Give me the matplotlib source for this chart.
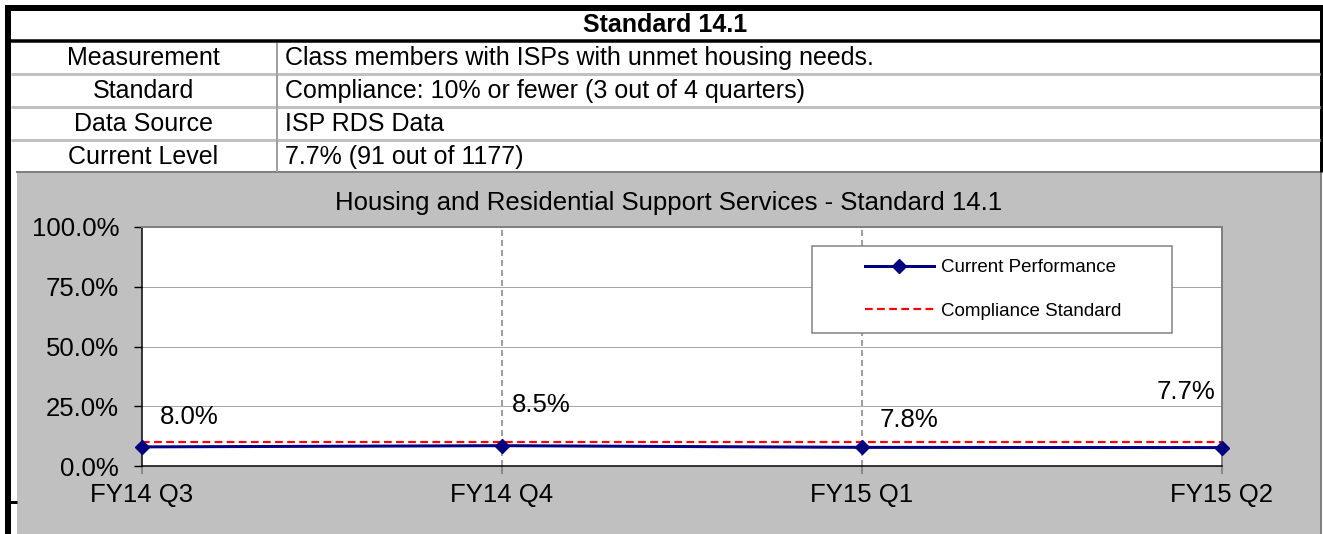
import matplotlib
matplotlib.use("Agg")
import matplotlib.pyplot as plt
from matplotlib.patches import Rectangle
from matplotlib.ticker import FuncFormatter

plt.rcParams['font.family'] = ['Liberation Sans', 'DejaVu Sans']

# ---- data ----
header = "Standard 14.1"
table_labels = ["Measurement", "Standard", "Data Source", "Current Level"]
table_values = ["Class members with ISPs with unmet housing needs.",
                "Compliance: 10% or fewer (3 out of 4 quarters)",
                "ISP RDS Data",
                "7.7% (91 out of 1177)"]
chart_title = "Housing and Residential Support Services - Standard 14.1"
quarters = ["FY14 Q3", "FY14 Q4", "FY15 Q1", "FY15 Q2"]
performance = [0.080, 0.085, 0.078, 0.077]
standard = [0.10, 0.10, 0.10, 0.10]
y_ticks = [0.0, 0.25, 0.50, 0.75, 1.0]
series_names = ["Current Performance", "Compliance Standard"]

W, H = 1323, 534
fig = plt.figure(figsize=(W / 100, H / 100), dpi=100)
fig.patch.set_facecolor("white")

# background / table axes in pixel coordinates
bg = fig.add_axes([0, 0, 1, 1])
bg.set_xlim(0, W)
bg.set_ylim(H, 0)
bg.axis("off")

px = 0.72  # pixel -> points

# gray chart area
bg.add_patch(Rectangle((17, 172), 1321 - 17, H - 172, facecolor="#C0C0C0",
                       edgecolor="none"))
bg.plot([17, 1321], [172, 172], color="#808080", lw=2 * px)
bg.plot([1321, 1321], [172, H], color="#808080", lw=2 * px)

# table lines
bg.plot([5, W], [8, 8], color="black", lw=6 * px, solid_capstyle="butt")
bg.plot([8, 8], [5, H], color="black", lw=6 * px, solid_capstyle="butt")
bg.plot([1321, 1321], [5, 172], color="black", lw=3 * px, solid_capstyle="butt")
bg.plot([5, W], [41, 41], color="black", lw=3.5 * px, solid_capstyle="butt")
for yy in [74, 107, 140]:
    bg.plot([11, 1320], [yy, yy], color="#C0C0C0", lw=3 * px, solid_capstyle="butt")
bg.plot([277, 277], [43, 172], color="#A0A0A0", lw=2 * px, solid_capstyle="butt")
bg.plot([5, 17], [502, 502], color="black", lw=3 * px, solid_capstyle="butt")

# table text
bg.text(665, 25, header, ha="center", va="center", fontsize=18,
        fontweight="bold")
row_y = [58, 91, 124, 157]
for lab, val, yy in zip(table_labels, table_values, row_y):
    bg.text(143, yy, lab, ha="center", va="center", fontsize=18)
    bg.text(285, yy, val, ha="left", va="center", fontsize=18)

# chart title
bg.text(669, 203, chart_title, ha="center", va="center", fontsize=18.5)

# plot axes
left, right, top, bottom = 142, 1222, 227, 466
ax = fig.add_axes([left / W, (H - bottom) / H, (right - left) / W,
                   (bottom - top) / H])
ax.set_facecolor("white")
x = list(range(len(quarters)))
ax.set_xlim(0, len(quarters) - 1)
ax.set_ylim(0, 1)

for yv in y_ticks[1:-1]:
    ax.axhline(yv, color="#A6A6A6", lw=1 * px, zorder=1)
for xv in x[1:]:
    ax.axvline(xv, color="#A0A0A0", lw=2 * px, ls=(0, (3, 2)), zorder=1)

ax.plot(x, standard, color="#FF0000", lw=2.2 * px, ls=(0, (3.5, 2)),
        zorder=3, label=series_names[1])
ax.plot(x, performance, color="#000080", lw=3 * px, marker="D", ms=7.5,
        markeredgecolor="#000080", markerfacecolor="#000080", zorder=4,
        label=series_names[0], clip_on=False)

label_offsets = [(18, 30, "left"), (10, 41, "left"), (18, 27, "left"),
                 (-7, 56, "right")]
for xi, v, (dx, dy, ha) in zip(x, performance, label_offsets):
    ax.annotate(f"{v:.1%}", (xi, v), xytext=(dx, dy),
                textcoords="offset pixels", ha=ha, va="center",
                fontsize=18.5, zorder=6)

ax.set_xticks(x)
ax.set_xticklabels(quarters, fontsize=18.5)
ax.set_yticks(y_ticks)
ax.yaxis.set_major_formatter(FuncFormatter(lambda v, p: f"{v:.1%}"))
ax.tick_params(axis="y", labelsize=18.5, length=5.5, width=1, pad=11,
               color="black", direction="out")
ax.tick_params(axis="x", length=5.5, width=1.2, pad=7, color="#808080",
               direction="out")

for s in ["top", "right"]:
    ax.spines[s].set_color("#808080")
    ax.spines[s].set_linewidth(2 * px)
for s in ["left", "bottom"]:
    ax.spines[s].set_color("black")
    ax.spines[s].set_linewidth(1.5 * px)

# legend frame and legend
ax.add_patch(Rectangle((812, 246), 1172 - 812, 333 - 246,
                       transform=bg.transData, facecolor="white",
                       edgecolor="#808080", lw=1.5 * px, zorder=5,
                       clip_on=False))
handles, labels = ax.get_legend_handles_labels()
order = [1, 0]
leg = ax.legend([handles[i] for i in order], [labels[i] for i in order],
                loc="center", bbox_to_anchor=(993, 289.5),
                bbox_transform=bg.transData, frameon=False, fontsize=13.5,
                handlelength=3.7, handletextpad=0.37, labelspacing=1.42,
                markerscale=0.9)
leg.set_zorder(7)

fig.savefig("out.png", dpi=100)
